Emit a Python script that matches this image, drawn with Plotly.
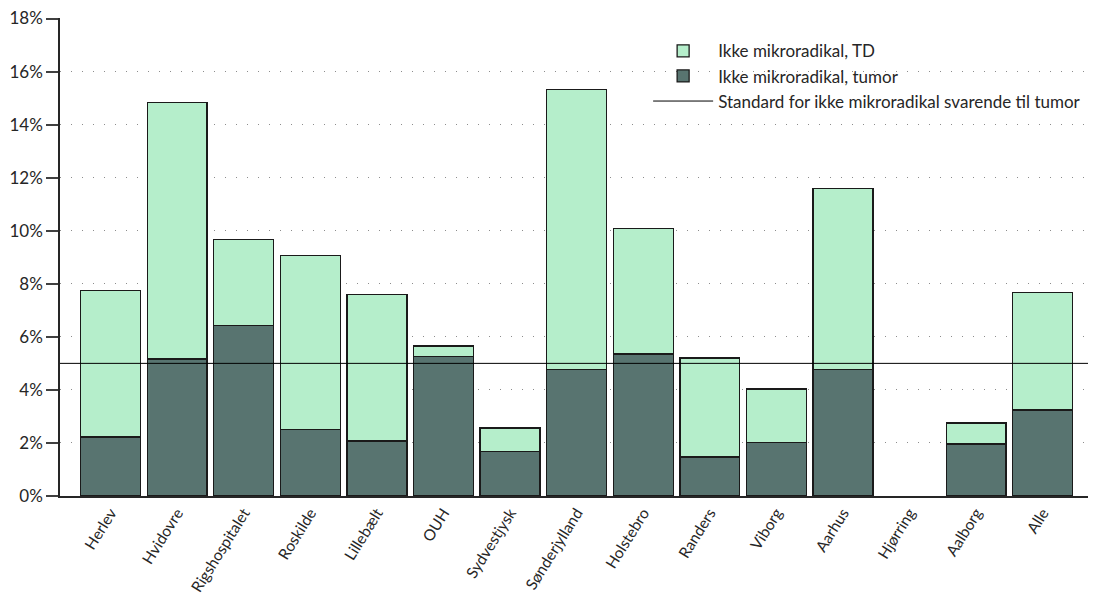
import plotly.graph_objects as go

categories = ["Herlev", "Hvidovre", "Rigshospitalet", "Roskilde", "Lillebælt", "OUH",
              "Sydvestjysk", "Sønderjylland", "Holstebro", "Randers", "Viborg", "Aarhus",
              "Hjørring", "Aalborg", "Alle"]
tumor = [2.22, 5.16, 6.44, 2.52, 2.07, 5.27, 1.69, 4.78, 5.35, 1.47, 2.03, 4.78, None, 1.96, 3.24]
total = [7.76, 14.83, 9.68, 9.07, 7.60, 5.65, 2.56, 15.32, 10.09, 5.20, 4.03, 11.60, None, 2.75, 7.68]
td = [None if t is None else round(t - u, 2) for t, u in zip(total, tumor)]
standard = 5.0
y_ticks = [0, 2, 4, 6, 8, 10, 12, 14, 16, 18]

x = list(range(len(categories)))
font = "Lato, 'Open Sans', sans-serif"

fig = go.Figure()
fig.add_trace(go.Bar(
    x=x, y=[None if v is None else v / 100 for v in tumor], name="Ikke mikroradikal, tumor",
    marker=dict(color="#587470", line=dict(color="#1a1a1a", width=1.3)),
    legendrank=2,
))
fig.add_trace(go.Bar(
    x=x, y=[None if v is None else v / 100 for v in td], name="Ikke mikroradikal, TD",
    marker=dict(color="#b5eecb", line=dict(color="#1a1a1a", width=1.3)),
    legendrank=1,
))
fig.add_trace(go.Scatter(
    x=[None], y=[None], mode="lines", name="Standard for ikke mikroradikal svarende til tumor",
    line=dict(color="black", width=1), legendrank=3,
))
fig.add_hline(y=standard / 100, line=dict(color="black", width=1), layer="above")

fig.update_layout(
    barmode="stack",
    bargap=0.1,
    width=1088, height=589,
    margin=dict(l=52, r=6, t=10, b=101),
    plot_bgcolor="white", paper_bgcolor="white",
    font=dict(family=font, size=16, color="#262626"),
    legend=dict(
        x=0.571, y=0.968, xanchor="left", yanchor="top",
        traceorder="normal", bgcolor="rgba(0,0,0,0)",
        font=dict(size=17, color="#262626"),
        itemwidth=60, tracegroupgap=0,
    ),
    xaxis=dict(
        tickvals=x, ticktext=categories, tickangle=-58,
        range=[-0.76, 14.71], automargin=False, ticklabeloverflow="allow",
        showline=True, linecolor="#262626", linewidth=1.5,
        showgrid=False, ticks="", tickfont=dict(size=15.5),
    ),
    yaxis=dict(
        range=[0, 0.1802], tickvals=[t / 100 for t in y_ticks],
        ticktext=[f"{t}%" for t in y_ticks], automargin=False,
        ticklabeloverflow="allow",
        showline=True, linecolor="#262626", linewidth=1.5,
        ticks="outside", ticklen=12, tickcolor="#404040", tickwidth=1.5,
        showgrid=True, gridcolor="#8c8c8c", gridwidth=1.3, griddash="1px,10px",
        zeroline=False, tickfont=dict(size=17, color="#262626"),
    ),
)

fig.write_html("out.html")
